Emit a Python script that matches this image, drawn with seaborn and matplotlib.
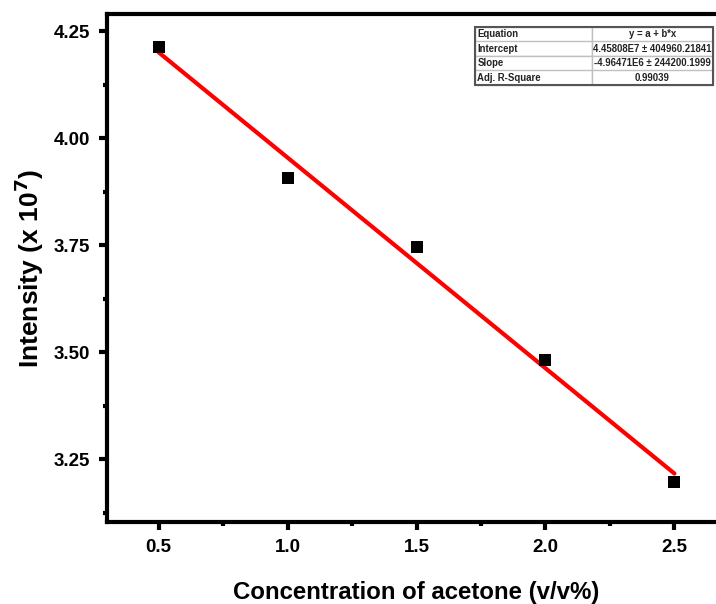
import numpy as np
import pandas as pd
import matplotlib
matplotlib.use("Agg")
import matplotlib.pyplot as plt
from matplotlib.ticker import AutoMinorLocator, FixedLocator
import seaborn as sns

# data
concentration = [0.5, 1.0, 1.5, 2.0, 2.5]
intensity = [4.214, 3.906, 3.745, 3.481, 3.196]
x_ticks = [0.5, 1.0, 1.5, 2.0, 2.5]
y_ticks = [3.25, 3.50, 3.75, 4.00, 4.25]
table_rows = [["Equation", "y = a + b*x"],
              ["Intercept", "4.45808E7 \u00b1 404960.21841"],
              ["Slope", "-4.96471E6 \u00b1 244200.1999"],
              ["Adj. R-Square", "0.99039"]]

sns.set_style("ticks")
plt.rcParams['font.family'] = ['Liberation Sans', 'DejaVu Sans']
plt.rcParams['font.weight'] = 'bold'
plt.rcParams['text.color'] = 'black'
plt.rcParams['axes.labelcolor'] = 'black'
plt.rcParams['xtick.color'] = 'black'
plt.rcParams['ytick.color'] = 'black'
plt.rcParams['axes.edgecolor'] = 'black'

df = pd.DataFrame({"x": concentration, "y": intensity})

fig = plt.figure(figsize=(7.16, 6.04), dpi=100)
ax = fig.add_axes([107/716, 82/604, 619/716, 508/604])

sns.regplot(data=df, x="x", y="y", ax=ax, ci=None, marker="s", color="black",
            scatter_kws=dict(s=70, color="black", edgecolors="black", alpha=1,
                             zorder=3, linewidths=0),
            line_kws=dict(color="red", lw=3, zorder=2))

ax.set_xlim(0.3, 2.7)
ax.set_ylim(3.103, 4.29)
ax.xaxis.set_major_locator(FixedLocator(x_ticks))
ax.yaxis.set_major_locator(FixedLocator(y_ticks))
ax.set_xticklabels([f"{v:.1f}" for v in x_ticks])
ax.set_yticklabels([f"{v:.2f}" for v in y_ticks])
ax.xaxis.set_minor_locator(AutoMinorLocator(2))
ax.yaxis.set_minor_locator(AutoMinorLocator(2))

for s in ax.spines.values():
    s.set_linewidth(3)
    s.set_visible(True)
    s.set_color('black')
ax.tick_params(which='major', direction='out', length=6, width=3, labelsize=13.5, pad=6,
               colors='black')
ax.tick_params(which='minor', direction='out', length=3, width=3, colors='black')
for lbl in ax.get_xticklabels() + ax.get_yticklabels():
    lbl.set_fontweight('bold')

ax.set_xlabel("Concentration of acetone (v/v%)", fontsize=17.3, fontweight='bold',
              labelpad=18, color='black')
ax.set_ylabel(r"Intensity (x 10$^\mathbf{7}$)", fontsize=19, fontweight='bold',
              labelpad=6, color='black')

tab = fig.add_axes([475/716, 519/604, 238/716, 58/604])
tab.axis('off')
t = tab.table(cellText=table_rows, cellLoc='center', bbox=[0, 0, 1, 1],
              colWidths=[117, 121])
t.auto_set_font_size(False)
for (r, c), cell in t.get_celld().items():
    cell.set_edgecolor('#c0c0c0')
    cell.set_linewidth(1)
    cell.get_text().set_fontsize(6.9)
    cell.get_text().set_fontweight('bold')
    cell.get_text().set_color('#222222')
    if c == 0:
        cell.get_text().set_ha('left')
        cell.PAD = 0.02
        cell._loc = 'left'
tab.add_patch(plt.Rectangle((0, 0), 1, 1, fill=False, edgecolor='#555555', lw=1.5,
                            transform=tab.transAxes, clip_on=False))

fig.savefig("out.png", dpi=100)
